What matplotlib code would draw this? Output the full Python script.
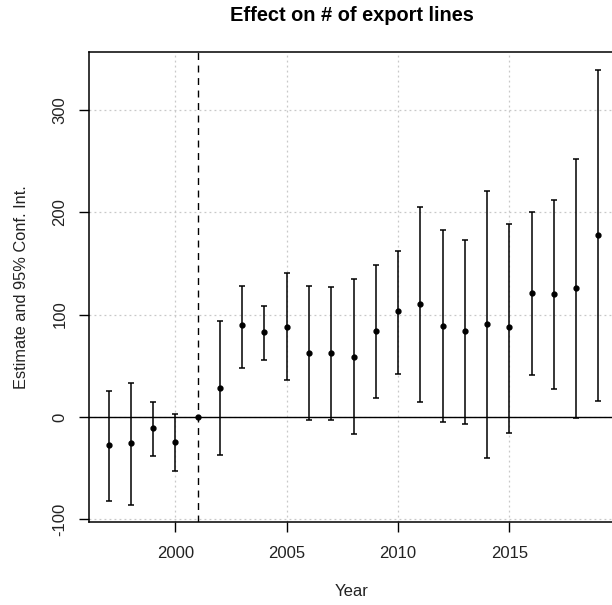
import numpy as np
import matplotlib.pyplot as plt

plt.rcParams['font.family'] = ['Liberation Sans', 'DejaVu Sans']
plt.rcParams['axes.unicode_minus'] = False

years = [1997, 1998, 1999, 2000, 2001, 2002, 2003, 2004, 2005, 2006, 2007, 2008,
         2009, 2010, 2011, 2012, 2013, 2014, 2015, 2016, 2017, 2018, 2019]
estimate = [-27, -26, -11.3, -24.4, 0, 28.3, 89.5, 82.7, 87.8, 62.8, 62.5, 58.9,
            83.8, 103.8, 110.3, 89.2, 83.9, 90.5, 87.8, 121, 119.7, 126.3, 177.6]
ci_low = [-82, -86, -38.4, -52.7, 0, -37, 47.8, 55.6, 35.8, -3.2, -2.6, -17.2,
          18.6, 42.3, 14.6, -5.2, -6.5, -39.7, -15.9, 41, 27.7, -0.6, 16]
ci_high = [25.1, 33.2, 14.6, 2.6, 0, 93.7, 128.2, 108.3, 140.2, 128.2, 126.9, 134.7,
           148, 162.4, 204.7, 182.5, 173.1, 220.6, 189, 199.8, 211.5, 252.5, 339.3]
treat_year = 2001

est = np.array(estimate)
lo = np.array(ci_low)
hi = np.array(ci_high)
yrs = np.array(years)

fig = plt.figure(figsize=(6.12, 6.05), dpi=100)
ax = fig.add_axes([89/612, 1 - 522.3/605, (618 - 89)/612, (522.3 - 52.3)/605])

# R-style 4% padding around the data
ymin, ymax = lo.min(), hi.max()
pad = 0.04 * (ymax - ymin)
ax.set_ylim(ymin - pad, ymax + pad)
xpad = 0.04 * (years[-1] - years[0])
ax.set_xlim(years[0] - xpad, years[-1] + xpad)

ax.set_xticks([2000, 2005, 2010, 2015])
ax.set_yticks([-100, 0, 100, 200, 300])
ax.grid(True, color='#c8c8c8', linestyle=(0, (1.5, 2.5)), linewidth=0.9)
ax.set_axisbelow(True)

ax.axhline(0, color='black', linewidth=1.0, zorder=2)
ax.axvline(treat_year, color='black', linestyle=(0, (5, 4)), linewidth=1.0, zorder=2)

has_bar = lo != hi
ax.errorbar(yrs[has_bar], est[has_bar],
            yerr=[est[has_bar] - lo[has_bar], hi[has_bar] - est[has_bar]],
            fmt='none', ecolor='black', elinewidth=1.1, capsize=2.1, capthick=1.1, zorder=3)
ax.plot(yrs, est, 'o', color='black', markersize=3.5, zorder=4)

for s in ['top', 'left', 'bottom', 'right']:
    ax.spines[s].set_linewidth(1.1)

ax.tick_params(axis='both', direction='out', length=7.5, width=1.0, labelsize=12,
               colors='black', labelcolor='#222222')
ax.tick_params(axis='x', pad=9.5)
ax.tick_params(axis='y', pad=8)
for lab in ax.get_yticklabels():
    lab.set_rotation(90)
    lab.set_verticalalignment('center')

ax.set_xlabel('Year', fontsize=12, color='#222222', va='center')
ax.xaxis.set_label_coords(0.5 * (352 - 89) / 264.5, -(591.7 - 522.3) / 470)
ax.set_ylabel('Estimate and 95% Conf. Int.', fontsize=11.8, color='#222222', va='center')
ax.yaxis.set_label_coords(-(89 - 21.5) / 529, 0.5)
fig.text(352/612, 1 - 15.5/605, 'Effect on # of export lines', ha='center', va='center',
         fontsize=14.4, fontweight='bold')

fig.savefig('out.png', dpi=100)
